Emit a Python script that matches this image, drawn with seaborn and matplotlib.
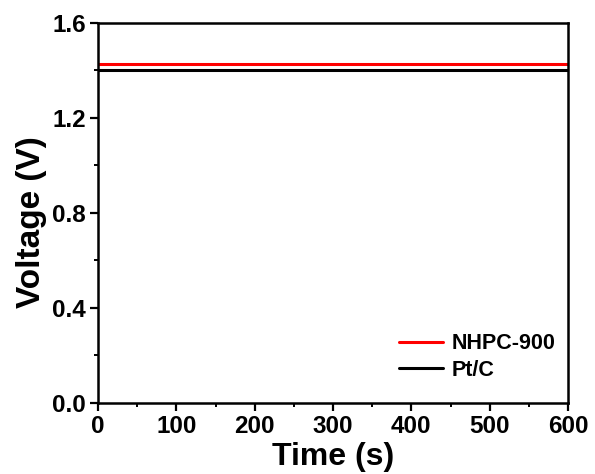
import matplotlib
matplotlib.use("Agg")
import matplotlib.pyplot as plt
import seaborn as sns
import pandas as pd
from matplotlib.ticker import MultipleLocator

# data
time_s = [0, 50, 100, 150, 200, 250, 300, 350, 400, 450, 500, 550, 600]
nhpc_900 = [1.426, 1.426, 1.426, 1.426, 1.426, 1.426, 1.426, 1.426, 1.426, 1.426, 1.426, 1.426, 1.426]
pt_c = [1.403, 1.403, 1.403, 1.403, 1.403, 1.403, 1.403, 1.403, 1.403, 1.403, 1.403, 1.403, 1.403]
series_names = ["NHPC-900", "Pt/C"]
colors = ["#ff0000", "#000000"]

df = pd.concat([
    pd.DataFrame({"Time": time_s, "Voltage": nhpc_900, "Sample": series_names[0]}),
    pd.DataFrame({"Time": time_s, "Voltage": pt_c, "Sample": series_names[1]}),
])

sns.set_style("ticks")
plt.rcParams["font.family"] = ["Liberation Sans", "DejaVu Sans"]
plt.rcParams["font.weight"] = "bold"
for k in ["text.color", "axes.labelcolor", "xtick.color", "ytick.color", "axes.edgecolor"]:
    plt.rcParams[k] = "black"

fig = plt.figure(figsize=(5.95, 4.74), dpi=100)
ax = fig.add_axes([0.1647, 0.1498, 0.79, 0.8017])

sns.lineplot(data=df, x="Time", y="Voltage", hue="Sample", palette=colors,
             linewidth=2.2, ax=ax)

ax.set_xlim(0, 600)
ax.set_ylim(0, 1.6)
ax.xaxis.set_major_locator(MultipleLocator(100))
ax.xaxis.set_minor_locator(MultipleLocator(50))
ax.yaxis.set_major_locator(MultipleLocator(0.4))
ax.yaxis.set_minor_locator(MultipleLocator(0.2))
ax.yaxis.set_major_formatter(matplotlib.ticker.FormatStrFormatter("%.1f"))

for s in ax.spines.values():
    s.set_linewidth(1.8)
    s.set_visible(True)
    s.set_color("black")
ax.tick_params(which="major", direction="out", length=6, width=1.6,
               labelsize=17.5, top=False, right=False, pad=2.5)
ax.tick_params(which="minor", direction="out", length=3, width=1.4,
               top=False, right=False)
for lab in ax.get_xticklabels() + ax.get_yticklabels():
    lab.set_fontweight("bold")

ax.set_xlabel("Time (s)", fontsize=23, fontweight="bold", labelpad=3)
ax.set_ylabel("Voltage (V)", fontsize=24, fontweight="bold")
ax.yaxis.set_label_coords(-0.108, 0.476)

leg = ax.legend(loc="lower right", bbox_to_anchor=(0.9906, 0.036), frameon=False,
                fontsize=15.5, handlelength=2.0, handletextpad=0.4,
                borderaxespad=0, labelspacing=0.25)
for t in leg.get_texts():
    t.set_fontweight("bold")

fig.savefig("out.png", dpi=100)
